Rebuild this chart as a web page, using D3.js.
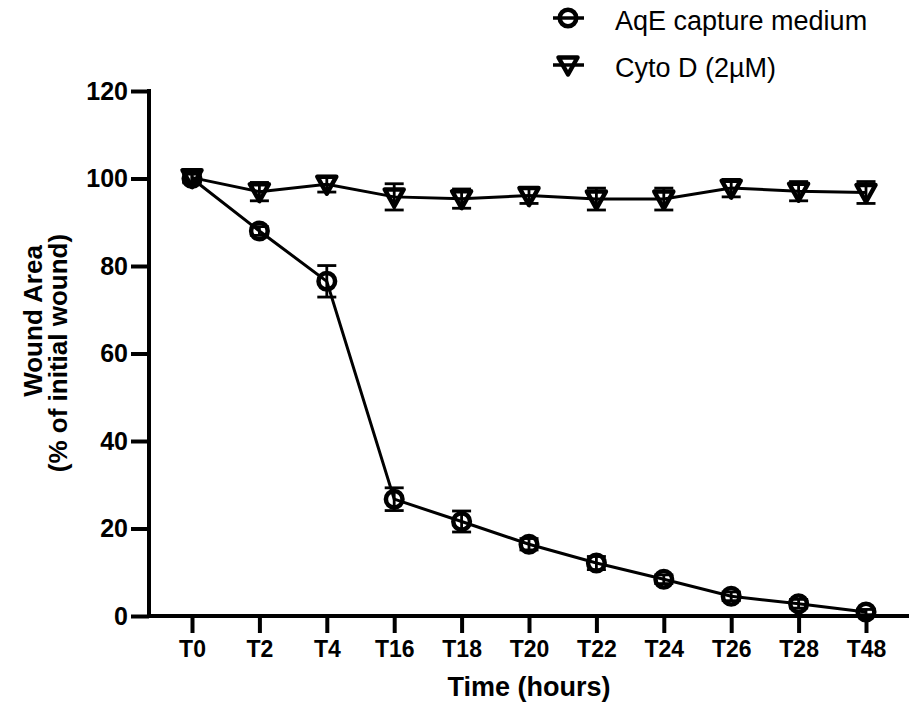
<!DOCTYPE html>
<html>
<head>
<meta charset="utf-8">
<script src="https://cdn.jsdelivr.net/npm/d3@7"></script>
<style>
  html, body { margin: 0; padding: 0; background: #fff; }
  svg { display: block; font-family: "Liberation Sans", Arial, sans-serif; }
</style>
</head>
<body>
<svg id="chart" width="909" height="715"></svg>
<script>
// Time points (x categories)
const timepoints = ["T0", "T2", "T4", "T16", "T18", "T20", "T22", "T24", "T26", "T28", "T48"];

// Wound area, % of initial wound — mean and error for each series
const aqeMean = [100.0, 88.0, 76.5, 26.7, 21.6, 16.4, 12.1, 8.4, 4.5, 2.8, 0.9];
const aqeErr  = [1.0, 1.0, 3.6, 2.6, 2.4, 1.3, 1.5, 1.0, 1.0, 1.0, 0.6];
const cytoMean = [100.2, 97.0, 98.7, 95.8, 95.4, 96.1, 95.3, 95.3, 97.8, 97.1, 96.8];
const cytoErr  = [1.0, 2.1, 1.8, 3.0, 2.2, 1.8, 2.5, 2.5, 2.0, 2.2, 2.5];

const yTicks = [0, 20, 40, 60, 80, 100, 120];
const seriesNames = ["AqE capture medium", "Cyto D (2\u00B5M)"];

const svg = d3.select("#chart");
const FONT = "Liberation Sans, Arial, sans-serif";

const x = d3.scalePoint().domain(timepoints).range([192, 866]);
const y = d3.scaleLinear().domain([0, 120]).range([616, 91]);
const axisLeftX = 149;

// Axes
const yAxis = svg.append("g")
  .attr("transform", `translate(${axisLeftX},0)`)
  .call(d3.axisLeft(y).tickValues(yTicks).tickSize(18).tickPadding(3).tickSizeOuter(0));
yAxis.select(".domain").attr("stroke-width", 4).attr("d", `M0,${y(120) - 2}V${y(0) + 2}`);
yAxis.selectAll(".tick line").attr("stroke-width", 4);
yAxis.selectAll(".tick text")
  .attr("font-size", 25).attr("font-weight", "bold").attr("fill", "#000")
  .attr("font-family", FONT);

const xAxis = svg.append("g")
  .attr("transform", `translate(0,${y(0)})`)
  .call(d3.axisBottom(x).tickSize(17).tickPadding(8).tickSizeOuter(0));
xAxis.select(".domain").attr("stroke-width", 4).attr("d", `M${axisLeftX - 2},0H909`);
xAxis.selectAll(".tick line").attr("stroke-width", 4);
xAxis.selectAll(".tick text")
  .attr("font-size", 23).attr("font-weight", "bold").attr("fill", "#000")
  .attr("font-family", FONT);

// Axis titles
svg.append("text")
  .attr("x", 529).attr("y", 696)
  .attr("text-anchor", "middle")
  .attr("font-size", 27).attr("font-weight", "bold")
  .text("Time (hours)");

const yTitle = svg.append("g").attr("transform", "rotate(-90)");
yTitle.append("text").attr("x", -321).attr("y", 42)
  .attr("text-anchor", "middle").attr("font-size", 26).attr("font-weight", "bold")
  .text("Wound Area");
yTitle.append("text").attr("x", -353).attr("y", 67)
  .attr("text-anchor", "middle").attr("font-size", 26).attr("font-weight", "bold")
  .text("(% of initial wound)");

// Marker shapes
const circlePath = d3.symbol().type(d3.symbolCircle).size(Math.PI * 8.3 * 8.3)();
const triPath = "M-9.5,-7.5L9.5,-7.5L0,9.5Z";

const series = [
  { mean: aqeMean, err: aqeErr, marker: circlePath },
  { mean: cytoMean, err: cytoErr, marker: triPath }
];

const line = d3.line().x((d, i) => x(timepoints[i])).y(d => y(d));

series.forEach(s => {
  const g = svg.append("g");
  // error bars
  const eb = g.selectAll(".eb").data(s.mean).enter().append("g")
    .attr("stroke", "#000").attr("stroke-width", 2.8);
  eb.append("line")
    .attr("x1", (d, i) => x(timepoints[i])).attr("x2", (d, i) => x(timepoints[i]))
    .attr("y1", (d, i) => y(d + s.err[i])).attr("y2", (d, i) => y(d - s.err[i]));
  eb.append("line")
    .attr("x1", (d, i) => x(timepoints[i]) - 9.5).attr("x2", (d, i) => x(timepoints[i]) + 9.5)
    .attr("y1", (d, i) => y(d + s.err[i])).attr("y2", (d, i) => y(d + s.err[i]));
  eb.append("line")
    .attr("x1", (d, i) => x(timepoints[i]) - 9.5).attr("x2", (d, i) => x(timepoints[i]) + 9.5)
    .attr("y1", (d, i) => y(d - s.err[i])).attr("y2", (d, i) => y(d - s.err[i]));
  // connecting line
  g.append("path").datum(s.mean)
    .attr("d", line).attr("fill", "none").attr("stroke", "#000").attr("stroke-width", 3);
  // markers
  g.selectAll(".mk").data(s.mean).enter().append("path")
    .attr("d", s.marker)
    .attr("transform", (d, i) => `translate(${x(timepoints[i])},${y(d)})`)
    .attr("fill", "none").attr("stroke", "#000").attr("stroke-width", 4.5)
    .attr("stroke-linejoin", "round");
});

// Legend
const legend = svg.append("g");
const legendRows = [
  { name: seriesNames[0], marker: circlePath, yy: 18 },
  { name: seriesNames[1], marker: triPath, yy: 65 }
];
legendRows.forEach(r => {
  legend.append("line").attr("x1", 553).attr("x2", 584).attr("y1", r.yy).attr("y2", r.yy)
    .attr("stroke", "#000").attr("stroke-width", 3.5);
  legend.append("path").attr("d", r.marker)
    .attr("transform", `translate(568,${r.yy})`)
    .attr("fill", "none").attr("stroke", "#000").attr("stroke-width", 4.5)
    .attr("stroke-linejoin", "round");
  legend.append("text").attr("x", 615).attr("y", r.yy + 12)
    .attr("font-size", 27).attr("fill", "#000").attr("font-family", FONT)
    .text(r.name);
});
</script>
</body>
</html>
